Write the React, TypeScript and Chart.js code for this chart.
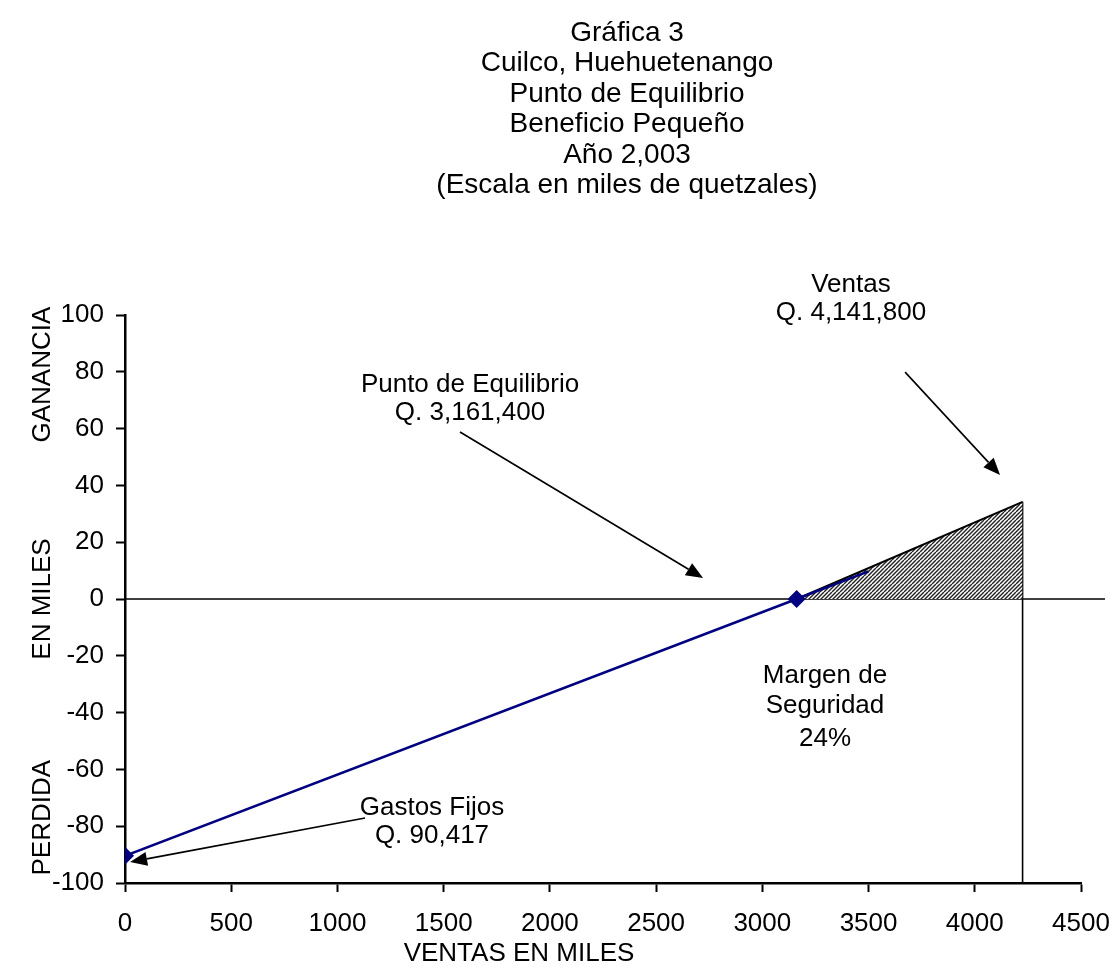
import React, { useEffect, useRef } from "react";
import { Chart, registerables } from "chart.js";

Chart.register(...registerables);

const titleLines = [
  "Gráfica 3",
  "Cuilco, Huehuetenango",
  "Punto de Equilibrio",
  "Beneficio Pequeño",
  "Año 2,003",
  "(Escala en miles de quetzales)",
];

const xMin = 0;
const xMax = 4500;
const xStep = 500;
const yMin = -100;
const yMax = 100;
const yStep = 20;

// Profit line (blue) in thousands of quetzales
const costX = [0, 3161.4, 3500];
const costY = [-90.417, 0, 9.7];
// Safety-margin triangle (hatched)
const marginX = [3161.4, 4225];
const marginY = [0, 34.2];
// Sales vertical line
const salesX = [4225, 4225];
const salesY = [34.2, -100];
// Zero (break-even) line
const zeroX = [0, 4613];
const zeroY = [0, 0];

const yAxisWords = ["GANANCIA", "EN MILES", "PERDIDA"];
const yAxisWordValues = [79, 0, -77];
const xAxisTitle = "VENTAS EN MILES";

type Note = { lines: string[]; x: number; y: number[]; arrow?: number[] };
const notes: Note[] = [
  { lines: ["Ventas", "Q. 4,141,800"], x: 3417, y: [110.6, 100.7], arrow: [3672, 79.9, 4119, 43.7] },
  { lines: ["Punto de Equilibrio", "Q. 3,161,400"], x: 1624, y: [75.4, 65.5], arrow: [1577, 58.8, 2721, 7.4] },
  { lines: ["Margen de", "Seguridad", "24%"], x: 3295, y: [-27.1, -37.6, -49.3] },
  { lines: ["Gastos Fijos", "Q. 90,417"], x: 1445, y: [-73.6, -83.5], arrow: [1130, -77.1, 24, -92.6] },
];

const FONT = "'Liberation Sans', Arial, sans-serif";

function pts(xs: number[], ys: number[]) {
  return xs.map((x, i) => ({ x, y: ys[i] }));
}

function makeHatch(): CanvasPattern | string {
  const c = document.createElement("canvas");
  c.width = 8;
  c.height = 8;
  const g = c.getContext("2d");
  if (!g) return "#888";
  g.fillStyle = "#ffffff";
  g.fillRect(0, 0, 8, 8);
  g.strokeStyle = "#222222";
  g.lineWidth = 1.4;
  for (let k = -8; k <= 16; k += 4) {
    g.beginPath();
    g.moveTo(k, 8);
    g.lineTo(k + 8, 0);
    g.stroke();
  }
  const p = g.createPattern(c, "repeat");
  return p || "#888";
}

const annotationPlugin = {
  id: "annotations",
  afterDraw(chart: any) {
    const ctx = chart.ctx as CanvasRenderingContext2D;
    const xs = chart.scales.x;
    const ys = chart.scales.y;
    ctx.save();
    ctx.fillStyle = "#000";
    ctx.textAlign = "center";
    ctx.textBaseline = "middle";

    // Title
    ctx.font = `28px ${FONT}`;
    titleLines.forEach((t, i) => {
      ctx.fillText(t, 627, 33 + i * 30.5);
    });

    // Notes
    ctx.font = `26px ${FONT}`;
    notes.forEach((n) => {
      const px = xs.getPixelForValue(n.x);
      n.lines.forEach((l, i) => {
        ctx.fillText(l, px, ys.getPixelForValue(n.y[i]));
      });
      if (n.arrow) {
        const x1 = xs.getPixelForValue(n.arrow[0]);
        const y1 = ys.getPixelForValue(n.arrow[1]);
        const x2 = xs.getPixelForValue(n.arrow[2]);
        const y2 = ys.getPixelForValue(n.arrow[3]);
        const ang = Math.atan2(y2 - y1, x2 - x1);
        const hl = 17;
        const hw = 7;
        const bx = x2 - hl * Math.cos(ang);
        const by = y2 - hl * Math.sin(ang);
        ctx.strokeStyle = "#000";
        ctx.lineWidth = 1.6;
        ctx.beginPath();
        ctx.moveTo(x1, y1);
        ctx.lineTo(bx, by);
        ctx.stroke();
        ctx.beginPath();
        ctx.moveTo(x2, y2);
        ctx.lineTo(bx + hw * Math.sin(ang), by - hw * Math.cos(ang));
        ctx.lineTo(bx - hw * Math.sin(ang), by + hw * Math.cos(ang));
        ctx.closePath();
        ctx.fill();
      }
    });

    // Y axis words (rotated)
    ctx.font = `26px ${FONT}`;
    yAxisWords.forEach((w, i) => {
      ctx.save();
      ctx.translate(43, ys.getPixelForValue(yAxisWordValues[i]));
      ctx.rotate(-Math.PI / 2);
      ctx.fillText(w, 0, 0);
      ctx.restore();
    });

    // X axis title
    ctx.fillText(xAxisTitle, 519, 954);
    ctx.restore();
  },
};

export default function App() {
  const ref = useRef<HTMLCanvasElement | null>(null);

  useEffect(() => {
    if (!ref.current) return;
    const hatch = makeHatch();
    const chart = new Chart(ref.current, {
      type: "scatter",
      data: {
        datasets: [
          {
            data: pts(costX, costY),
            showLine: true,
            borderColor: "#000080",
            backgroundColor: "#000080",
            borderWidth: 2.5,
            pointStyle: "rectRot",
            pointRadius: [9, 9, 0],
            pointBorderWidth: 0,
            order: 0,
          },
          {
            data: pts(marginX, marginY),
            showLine: true,
            borderColor: "#000",
            borderWidth: 2,
            backgroundColor: hatch as any,
            fill: "origin",
            pointRadius: 0,
            order: 1,
          },
          {
            data: pts(salesX, salesY),
            showLine: true,
            borderColor: "#000",
            borderWidth: 1.6,
            pointRadius: 0,
            order: 2,
          },
          {
            data: pts(zeroX, zeroY),
            showLine: true,
            borderColor: "#000",
            borderWidth: 1.6,
            pointRadius: 0,
            clip: false as any,
            order: 3,
          },
        ],
      },
      options: {
        animation: false,
        responsive: true,
        maintainAspectRatio: false,
        layout: { padding: { left: 0, top: 315, right: 32, bottom: 0 } },
        plugins: { legend: { display: false }, tooltip: { enabled: false }, title: { display: false } },
        scales: {
          x: {
            type: "linear",
            min: xMin,
            max: xMax,
            afterFit: (s: any) => {
              s.height = 87;
              s.paddingLeft = 0;
              s.paddingRight = 0;
            },
            ticks: {
              stepSize: xStep,
              color: "#000",
              font: { family: FONT, size: 26 },
              padding: 16,
              maxRotation: 0,
              callback: (v: any) => String(v),
            },
            grid: {
              display: true,
              drawOnChartArea: false,
              drawTicks: true,
              tickLength: 9,
              tickColor: "#000",
              tickWidth: 2,
            },
            border: { display: true, color: "#000", width: 2.5 },
          },
          y: {
            type: "linear",
            min: yMin,
            max: yMax,
            afterFit: (s: any) => {
              s.width = 125;
            },
            ticks: {
              stepSize: yStep,
              color: "#000",
              font: { family: FONT, size: 26 },
              padding: 12,
              callback: (v: any) => String(v),
            },
            grid: {
              display: true,
              drawOnChartArea: false,
              drawTicks: true,
              tickLength: 9,
              tickColor: "#000",
              tickWidth: 2,
            },
            border: { display: true, color: "#000", width: 2.5 },
          },
        },
      },
      plugins: [annotationPlugin],
    });
    return () => chart.destroy();
  }, []);

  return (
    <div style={{ position: "fixed", left: 0, top: 0, width: 1113, height: 970, background: "#fff" }}>
      <canvas ref={ref} />
    </div>
  );
}
